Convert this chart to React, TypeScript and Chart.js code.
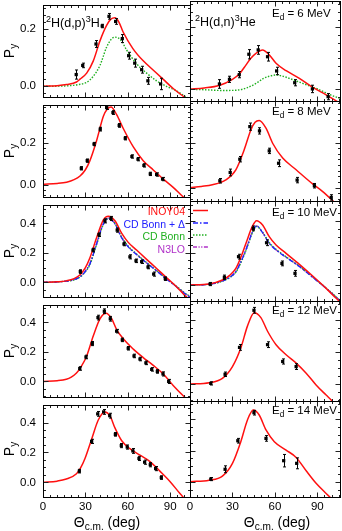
import React, { useEffect, useRef } from "react";
import { Chart, registerables } from "chart.js";

Chart.register(...registerables);

const FONT = "'Liberation Sans', Arial, Helvetica, sans-serif";
const RED = "#ff1010";
const BLUE = "#2020ff";
const GREEN = "#20b020";
const PURPLE = "#b030c8";

// ---------- tick labels ----------
const X_LABELS = [0, 30, 60, 90];
const Y_LABELS_LOW = [0, 0.2];
const Y_LABELS_HIGH = [0, 0.2, 0.4];

// ---------- 6 MeV, 2H(d,p)3H ----------
const dp6Deg = [23.5, 28.1, 37.5, 41.9, 46.7, 51.4, 56.1, 60.6, 64.9, 69.8, 74.2, 83.2];
const dp6Py = [0.041, 0.073, 0.148, 0.211, 0.245, 0.227, 0.167, 0.107, 0.081, 0.058, 0.019, 0.008];
const dp6Err = [0.016, 0.008, 0.012, 0.006, 0.01, 0.01, 0.014, 0.012, 0.014, 0.012, 0.012, 0.02];
const dp6InoyDeg = [0, 10, 16.8, 23.7, 26.2, 30.9, 35.6, 40.3, 45, 48, 50.9, 53.7, 56.6, 63.6, 70.9, 77.9, 84.9, 92.1, 99.2, 104];
const dp6InoyPy = [0, 0.002, 0.006, 0.015, 0.025, 0.046, 0.089, 0.159, 0.213, 0.235, 0.24, 0.225, 0.191, 0.132, 0.089, 0.057, 0.025, -0.008, -0.035, -0.05];
const dp6CdbDeg = [0, 15, 25, 30.9, 35.6, 40.3, 45, 48, 50.9, 55, 59.2, 66.3, 73.3, 80.4, 87.3, 94.4, 100.4, 104];
const dp6CdbPy = [0, 0.001, 0.006, 0.014, 0.035, 0.073, 0.137, 0.163, 0.172, 0.162, 0.127, 0.078, 0.046, 0.019, 0, -0.016, -0.035, -0.045];

// ---------- 6 MeV, 2H(d,n)3He ----------
const dn6Deg = [20.8, 27.9, 34.8, 41.6, 48.2, 54.8, 61.2, 74, 86.5, 97.6];
const dn6Py = [0.017, 0.032, 0.047, 0.113, 0.127, 0.105, 0.059, 0.021, 0.001, -0.024];
const dn6Err = [0.014, 0.01, 0.01, 0.015, 0.014, 0.014, 0.012, 0.01, 0.012, 0.01];
const dn6InoyDeg = [0, 10, 20.6, 30, 35, 39.5, 43, 46.6, 51.3, 56, 60.8, 67.9, 77.3, 86.7, 96.2, 106];
const dn6InoyPy = [0, 0.004, 0.012, 0.032, 0.05, 0.078, 0.1, 0.116, 0.127, 0.111, 0.084, 0.06, 0.035, 0.006, -0.018, -0.045];
const dn6CdbDeg = [0, 12, 23, 33, 40, 46.6, 52, 56, 60.8, 65, 70.2, 79.6, 89.1, 98.6, 106];
const dn6CdbPy = [0, -0.002, -0.004, -0.003, 0.004, 0.019, 0.035, 0.042, 0.046, 0.043, 0.035, 0.019, 0.003, -0.017, -0.03];

// ---------- 8 MeV ----------
const dp8Deg = [27.1, 31.3, 36.1, 40.5, 45.0, 49.5, 53.9, 58.2, 62.9, 67.2, 71.4, 75.9, 80.4, 84.6];
const dp8Py = [0.079, 0.116, 0.196, 0.268, 0.372, 0.348, 0.286, 0.224, 0.136, 0.123, 0.093, 0.052, 0.049, 0.027];
const dp8Err = [0.008, 0.008, 0.008, 0.009, 0.009, 0.009, 0.009, 0.008, 0.008, 0.008, 0.008, 0.008, 0.008, 0.008];
const dp8InoyDeg = [0, 10, 16.7, 22, 26.2, 30, 33.2, 37.9, 42.7, 45.5, 48.1, 52.1, 56.8, 63.9, 70.9, 78, 85.1, 92.1, 98.1, 104];
const dp8InoyPy = [0.002, 0.006, 0.012, 0.024, 0.042, 0.072, 0.116, 0.212, 0.33, 0.365, 0.375, 0.338, 0.271, 0.182, 0.116, 0.071, 0.027, -0.013, -0.052, -0.09];

const dn8Deg = [21.1, 28.4, 35.2, 42.3, 49.1, 56, 62.6, 75.7, 87.9, 99.8];
const dn8Py = [0.03, 0.067, 0.126, 0.271, 0.252, 0.163, 0.108, 0.033, 0.008, -0.044];
const dn8Err = [0.01, 0.015, 0.012, 0.016, 0.014, 0.012, 0.015, 0.012, 0.01, 0.012];
const dn8InoyDeg = [0, 8, 15.8, 25.3, 32.4, 38.3, 43, 46, 48.9, 53.7, 58.4, 65.5, 75, 86.7, 93.8, 100.9, 106];
const dn8InoyPy = [0, 0.005, 0.012, 0.034, 0.079, 0.168, 0.256, 0.29, 0.298, 0.264, 0.197, 0.131, 0.079, 0.016, -0.018, -0.059, -0.09];

// ---------- 10 MeV ----------
const dp10Deg = [26.4, 35.4, 39.6, 43.8, 48.1, 52.5, 57.3, 61.5, 65.8, 69.8, 74.3, 78.3, 86.5];
const dp10Py = [0.073, 0.219, 0.323, 0.417, 0.433, 0.354, 0.26, 0.173, 0.146, 0.14, 0.104, 0.056, 0.025];
const dp10Err = [0.012, 0.012, 0.012, 0.014, 0.014, 0.014, 0.012, 0.014, 0.012, 0.012, 0.012, 0.014, 0.012];
const dp10CurveDeg = [0, 10, 16.5, 22, 26.2, 30, 33.2, 37.9, 42.7, 46.2, 50.9, 55.6, 60.3, 66.2, 73.3, 80.4, 87.5, 94.6, 100.4, 104];
const dp10InoyPy = [0, 0.004, 0.01, 0.025, 0.052, 0.1, 0.167, 0.302, 0.423, 0.448, 0.417, 0.333, 0.271, 0.219, 0.156, 0.094, 0.031, -0.031, -0.09, -0.12];
const dp10CdbdPy = [0, 0.003, 0.008, 0.018, 0.038, 0.075, 0.125, 0.26, 0.396, 0.433, 0.396, 0.302, 0.24, 0.188, 0.131, 0.077, 0.021, -0.031, -0.077, -0.1];
const dp10CdbPy = [0, 0.003, 0.008, 0.017, 0.036, 0.072, 0.12, 0.255, 0.392, 0.432, 0.4, 0.308, 0.245, 0.192, 0.134, 0.08, 0.024, -0.028, -0.072, -0.095];
const dp10N3loPy = [0, 0.003, 0.009, 0.019, 0.04, 0.078, 0.13, 0.265, 0.4, 0.435, 0.398, 0.305, 0.242, 0.19, 0.132, 0.078, 0.022, -0.03, -0.075, -0.098];

const dn10Deg = [14.2, 24.3, 34.3, 44.7, 54.1, 65, 74.2];
const dn10Py = [0.006, 0.048, 0.177, 0.354, 0.264, 0.135, 0.073];
const dn10Err = [0.01, 0.014, 0.015, 0.015, 0.018, 0.015, 0.018];
const dn10CurveDeg = [0, 13.5, 22.9, 28, 32.4, 36, 39.5, 44.2, 47, 51.3, 56, 60.8, 67.9, 77.3, 86.7, 96.2, 103.3, 106];
const dn10InoyPy = [0, 0.006, 0.031, 0.06, 0.104, 0.175, 0.26, 0.369, 0.402, 0.375, 0.302, 0.25, 0.198, 0.129, 0.056, -0.021, -0.083, -0.105];
const dn10CdbdPy = [0, 0.005, 0.025, 0.048, 0.083, 0.145, 0.219, 0.333, 0.369, 0.327, 0.26, 0.219, 0.173, 0.115, 0.048, -0.021, -0.077, -0.1];
const dn10CdbPy = [0, 0.005, 0.024, 0.046, 0.08, 0.14, 0.214, 0.328, 0.366, 0.33, 0.265, 0.223, 0.176, 0.118, 0.05, -0.019, -0.074, -0.097];
const dn10N3loPy = [0, 0.005, 0.026, 0.05, 0.086, 0.148, 0.222, 0.336, 0.37, 0.328, 0.262, 0.221, 0.175, 0.116, 0.049, -0.02, -0.076, -0.099];

// ---------- 12 MeV ----------
const dp12Deg = [26, 30.4, 34.9, 38.9, 43.4, 47.6, 52.1, 56.1, 60.3, 64.4, 68.6, 72.8, 76.9, 80.9, 84.9, 88.9];
const dp12Py = [0.088, 0.166, 0.257, 0.433, 0.476, 0.425, 0.341, 0.282, 0.225, 0.173, 0.152, 0.126, 0.082, 0.068, 0.051, 0.0];
const dp12Err = [0.012, 0.012, 0.014, 0.016, 0.016, 0.016, 0.012, 0.012, 0.012, 0.012, 0.012, 0.012, 0.012, 0.012, 0.014, 0.014];
const dp12InoyDeg = [0, 10, 16.5, 20, 23.7, 27, 30.9, 35.6, 40.3, 44.6, 48.6, 52.1, 56.8, 63.9, 70.9, 78, 85.1, 92.1, 99.2, 104];
const dp12InoyPy = [0, 0.005, 0.015, 0.03, 0.057, 0.1, 0.173, 0.31, 0.425, 0.463, 0.425, 0.352, 0.289, 0.219, 0.162, 0.109, 0.051, -0.027, -0.097, -0.14];

const dn12Deg = [14.7, 24.8, 35, 45.2, 54.8, 65.5, 75];
const dn12Py = [0.004, 0.061, 0.229, 0.461, 0.246, 0.141, 0.109];
const dn12Err = [0.01, 0.014, 0.018, 0.018, 0.018, 0.016, 0.018];
const dn12InoyDeg = [0, 13.5, 22.9, 30, 35.9, 40.6, 45.4, 50.1, 54.8, 60.8, 67.9, 75, 82.1, 89.1, 96.2, 99.8, 106];
const dn12InoyPy = [0, 0.008, 0.036, 0.109, 0.225, 0.362, 0.446, 0.415, 0.33, 0.246, 0.183, 0.131, 0.068, -0.006, -0.069, -0.1, -0.16];

// ---------- 14 MeV ----------
const dp14Deg = [25.7, 34.4, 38.7, 42.9, 47.2, 51.2, 55.4, 59.6, 63.6, 67.9, 71.9, 75.9, 79.7, 83.7];
const dp14Py = [0.075, 0.274, 0.458, 0.471, 0.446, 0.321, 0.246, 0.236, 0.21, 0.16, 0.135, 0.118, 0.092, 0.032];
const dp14Err = [0.012, 0.014, 0.016, 0.016, 0.016, 0.012, 0.014, 0.014, 0.016, 0.014, 0.014, 0.014, 0.014, 0.012];
const dp14InoyDeg = [0, 10, 16.5, 23.7, 26.5, 29.7, 34.4, 39.1, 43.8, 47.4, 50.9, 55.7, 61.5, 68.6, 75.7, 82.7, 89.8, 96.9, 104];
const dp14InoyPy = [0, 0.008, 0.022, 0.058, 0.095, 0.16, 0.289, 0.417, 0.471, 0.445, 0.364, 0.278, 0.225, 0.182, 0.139, 0.075, 0.006, -0.075, -0.15];

const dn14Deg = [14.7, 24.8, 33.8, 45.2, 53.7, 66.2, 75.4];
const dn14Py = [0.017, 0.08, 0.263, 0.443, 0.278, 0.135, 0.118];
const dn14Err = [0.01, 0.022, 0.015, 0.015, 0.018, 0.04, 0.035];
const dn14InoyDeg = [0, 13.5, 22.9, 30, 35.9, 40.6, 44.7, 48.9, 53.7, 59.6, 67.9, 75, 82.1, 89.1, 96.2, 106];
const dn14InoyPy = [0, 0.01, 0.036, 0.118, 0.257, 0.396, 0.46, 0.428, 0.332, 0.257, 0.203, 0.156, 0.07, -0.01, -0.075, -0.16];

// ---------- styles / layout ----------
const STYLES: any = {
  inoy: { color: RED, dash: [], width: 1.5 },
  cdbd: { color: BLUE, dash: [5, 2, 1.5, 2], width: 1.3 },
  cdb: { color: GREEN, dash: [1.5, 1.5], width: 1.4 },
  n3lo: { color: PURPLE, dash: [4, 1.5, 1.2, 1.5, 1.2, 1.5], width: 1.3 },
};

const COLS = [
  { left: 43, right: 190, xMax: 104 },
  { left: 190, right: 340, xMax: 106 },
];
const ROWS = [
  { top: 1, bottom: 101, yMin: -0.038, yMax: 0.285, yStep: 0.025, labels: Y_LABELS_LOW },
  { top: 101, bottom: 201, yMin: -0.06, yMax: 0.385, yStep: 0.025, labels: Y_LABELS_LOW },
  { top: 201, bottom: 301, yMin: -0.1, yMax: 0.525, yStep: 0.05, labels: Y_LABELS_HIGH },
  { top: 301, bottom: 401, yMin: -0.106, yMax: 0.519, yStep: 0.05, labels: Y_LABELS_HIGH },
  { top: 401, bottom: 497, yMin: -0.098, yMax: 0.518, yStep: 0.05, labels: Y_LABELS_HIGH },
];
const PAGE_H = 531;

type Part = [string, number];
const txt = (x: number, y: number, size: number, color: string, align: string, parts: Part[], rotate = false) => ({ kind: "text", x, y, size, color, align, parts, rotate });
const seg = (x1: number, x2: number, y: number, style: string) => ({ kind: "line", x1, x2, y, style });
const eLabel = (y: number, e: string) => txt(272, y, 11.5, "#000", "left", [["E", 0], ["d", 1], [" = " + e + " MeV", 0]]);
const pyTitle = (row: number) => txt(13.5, (ROWS[row].top + ROWS[row].bottom) / 2, 14, "#000", "center", [["P", 0], ["y", 1]], true);
const thetaTitle = (x: number) => txt(x, 526.5, 14, "#000", "center", [["Θ", 0], ["c.m.", 1], [" (deg)", 0]]);

const PANELS = [
  { row: 0, col: 0, pts: [dp6Deg, dp6Py, dp6Err], curves: [[dp6InoyDeg, dp6InoyPy, "inoy"], [dp6CdbDeg, dp6CdbPy, "cdb"]],
    items: [pyTitle(0), txt(46, 27, 12.5, "#000", "left", [["2", 2], ["H(d,p)", 0], ["3", 2], ["H", 0]])] },
  { row: 0, col: 1, pts: [dn6Deg, dn6Py, dn6Err], curves: [[dn6InoyDeg, dn6InoyPy, "inoy"], [dn6CdbDeg, dn6CdbPy, "cdb"]],
    items: [txt(195, 26, 12.5, "#000", "left", [["2", 2], ["H(d,n)", 0], ["3", 2], ["He", 0]]), eLabel(16.5, "6")] },
  { row: 1, col: 0, pts: [dp8Deg, dp8Py, dp8Err], curves: [[dp8InoyDeg, dp8InoyPy, "inoy"]], items: [pyTitle(1)] },
  { row: 1, col: 1, pts: [dn8Deg, dn8Py, dn8Err], curves: [[dn8InoyDeg, dn8InoyPy, "inoy"]], items: [eLabel(115, "8")] },
  { row: 2, col: 0, pts: [dp10Deg, dp10Py, dp10Err],
    curves: [[dp10CurveDeg, dp10InoyPy, "inoy"], [dp10CurveDeg, dp10CdbdPy, "cdbd"], [dp10CurveDeg, dp10CdbPy, "cdb"], [dp10CurveDeg, dp10N3loPy, "n3lo"]],
    items: [pyTitle(2),
      txt(185, 215, 10.5, RED, "right", [["INOY04", 0]]),
      txt(185, 227.5, 10.5, BLUE, "right", [["CD Bonn + Δ", 0]]),
      txt(185, 240, 10.5, GREEN, "right", [["CD Bonn", 0]]),
      txt(185, 252.5, 10.5, PURPLE, "right", [["N3LO", 0]])] },
  { row: 2, col: 1, pts: [dn10Deg, dn10Py, dn10Err],
    curves: [[dn10CurveDeg, dn10InoyPy, "inoy"], [dn10CurveDeg, dn10CdbdPy, "cdbd"], [dn10CurveDeg, dn10CdbPy, "cdb"], [dn10CurveDeg, dn10N3loPy, "n3lo"]],
    items: [eLabel(215.5, "10"), seg(193, 208, 210.5, "inoy"), seg(193, 208, 223, "cdbd"), seg(193, 208, 235, "cdb"), seg(193, 208, 247, "n3lo")] },
  { row: 3, col: 0, pts: [dp12Deg, dp12Py, dp12Err], curves: [[dp12InoyDeg, dp12InoyPy, "inoy"]], items: [pyTitle(3)] },
  { row: 3, col: 1, pts: [dn12Deg, dn12Py, dn12Err], curves: [[dn12InoyDeg, dn12InoyPy, "inoy"]], items: [eLabel(314, "12")] },
  { row: 4, col: 0, pts: [dp14Deg, dp14Py, dp14Err], curves: [[dp14InoyDeg, dp14InoyPy, "inoy"]], items: [pyTitle(4), thetaTitle(107)] },
  { row: 4, col: 1, pts: [dn14Deg, dn14Py, dn14Err], curves: [[dn14InoyDeg, dn14InoyPy, "inoy"]], items: [eLabel(413.5, "14"), thetaTitle(277)] },
];

const near = (list: number[], v: number) => list.some((m) => Math.abs(m - v) < 1e-6);

function makeFramePlugin(yLabels: number[]) {
  return {
    id: "frameTicks",
    afterDatasetsDraw(chart: any) {
      const { ctx, chartArea: a } = chart;
      const xs = chart.scales.x, ys = chart.scales.y;
      const snap = (v: number) => Math.round(v) + 0.5;
      const L = snap(a.left), R = snap(a.right), T = snap(a.top), B = snap(a.bottom);
      ctx.save();
      ctx.strokeStyle = "#222";
      ctx.lineWidth = 1;
      ctx.beginPath();
      for (const t of xs.ticks) {
        const px = snap(xs.getPixelForValue(t.value));
        if (px <= L + 0.1 || px >= R - 0.1) continue;
        const len = near(X_LABELS, t.value) ? 5 : 2.5;
        ctx.moveTo(px, B); ctx.lineTo(px, B - len);
        ctx.moveTo(px, T); ctx.lineTo(px, T + len);
      }
      for (const t of ys.ticks) {
        const py = snap(ys.getPixelForValue(t.value));
        if (py <= T + 0.1 || py >= B - 0.1) continue;
        const len = near(yLabels, t.value) ? 5 : 2.5;
        ctx.moveTo(L, py); ctx.lineTo(L + len, py);
        ctx.moveTo(R, py); ctx.lineTo(R - len, py);
      }
      ctx.stroke();
      ctx.strokeStyle = "#000";
      ctx.strokeRect(L, T, R - L, B - T);
      ctx.restore();
    },
  };
}

const errorBarPlugin = {
  id: "errorBars",
  afterDatasetsDraw(chart: any) {
    const { ctx, chartArea: a } = chart;
    const ys = chart.scales.y;
    ctx.save();
    ctx.beginPath();
    ctx.rect(a.left, a.top, a.right - a.left, a.bottom - a.top);
    ctx.clip();
    ctx.strokeStyle = "#000";
    ctx.lineWidth = 1;
    chart.data.datasets.forEach((ds: any, i: number) => {
      if (!ds.errors) return;
      const meta = chart.getDatasetMeta(i);
      meta.data.forEach((el: any, j: number) => {
        const v = ds.data[j].y, e = ds.errors[j];
        const x = Math.round(el.x) + 0.5;
        const y1 = ys.getPixelForValue(v + e), y2 = ys.getPixelForValue(v - e);
        ctx.beginPath();
        ctx.moveTo(x, y1); ctx.lineTo(x, y2);
        ctx.moveTo(x - 1.5, y1); ctx.lineTo(x + 1.5, y1);
        ctx.moveTo(x - 1.5, y2); ctx.lineTo(x + 1.5, y2);
        ctx.stroke();
      });
    });
    ctx.restore();
  },
};

function makeTextPlugin(items: any[], ox: number, oy: number) {
  return {
    id: "richText",
    afterDraw(chart: any) {
      const ctx = chart.ctx;
      for (const it of items) {
        ctx.save();
        if (it.kind === "line") {
          const st = STYLES[it.style];
          ctx.strokeStyle = st.color;
          ctx.lineWidth = st.width;
          ctx.setLineDash(st.dash);
          ctx.beginPath();
          ctx.moveTo(it.x1 - ox, it.y - oy);
          ctx.lineTo(it.x2 - ox, it.y - oy);
          ctx.stroke();
          ctx.restore();
          continue;
        }
        const size = it.size;
        const fontFor = (m: number) => `${m ? size * 0.72 : size}px ${FONT}`;
        let w = 0;
        for (const [t, m] of it.parts) { ctx.font = fontFor(m); w += ctx.measureText(t).width; }
        ctx.translate(it.x - ox, it.y - oy);
        if (it.rotate) ctx.rotate(-Math.PI / 2);
        let x = it.align === "right" ? -w : it.align === "center" ? -w / 2 : 0;
        ctx.fillStyle = it.color;
        ctx.textAlign = "left";
        ctx.textBaseline = "alphabetic";
        for (const [t, m] of it.parts) {
          ctx.font = fontFor(m);
          const dy = m === 1 ? size * 0.28 : m === 2 ? -size * 0.42 : 0;
          ctx.fillText(t, x, dy);
          x += ctx.measureText(t).width;
        }
        ctx.restore();
      }
    },
  };
}

function Panel({ p }: { p: any }) {
  const ref = useRef<HTMLCanvasElement>(null);
  const col = COLS[p.col], row = ROWS[p.row];
  const isBottom = p.row === ROWS.length - 1;
  const isLeft = p.col === 0;
  const PAD = 10;
  const canvasLeft = isLeft ? 0 : col.left - PAD;
  const canvasRight = col.right + PAD;
  const canvasTop = row.top - PAD;
  const canvasBottom = isBottom ? PAGE_H : row.bottom + PAD;
  const w = canvasRight - canvasLeft, h = canvasBottom - canvasTop;

  useEffect(() => {
    const [xs, ys, errs] = p.pts;
    const datasets: any[] = [
      {
        type: "line",
        data: xs.map((x: number, i: number) => ({ x, y: ys[i] })),
        errors: errs,
        showLine: false,
        pointStyle: "rect",
        pointRadius: 2.3,
        pointBackgroundColor: "#000",
        pointBorderWidth: 0,
        borderColor: "#000",
      },
      ...p.curves.map(([cx, cy, s]: any) => ({
        type: "line",
        data: cx.map((x: number, i: number) => ({ x, y: cy[i] })),
        borderColor: STYLES[s].color,
        borderDash: STYLES[s].dash,
        borderWidth: STYLES[s].width,
        pointRadius: 0,
        fill: false,
        cubicInterpolationMode: "monotone",
        capBezierPoints: false,
      })),
    ];
    const chart = new Chart(ref.current as HTMLCanvasElement, {
      type: "line",
      data: { datasets },
      options: {
        responsive: false,
        animation: false,
        devicePixelRatio: 1,
        events: [],
        layout: {
          padding: { left: isLeft ? 0 : PAD, right: PAD, top: PAD, bottom: isBottom ? 0 : PAD },
        },
        plugins: { legend: { display: false }, tooltip: { enabled: false } },
        scales: {
          x: {
            type: "linear",
            min: 0,
            max: col.xMax,
            grid: { display: false, drawTicks: false },
            border: { display: false },
            ticks: {
              display: isBottom,
              stepSize: 5,
              autoSkip: false,
              maxRotation: 0,
              includeBounds: false,
              padding: 3,
              color: "#000",
              font: { size: 11.5, family: FONT },
              callback: (v: any) => (near(X_LABELS, Number(v)) ? String(v) : ""),
            },
            afterFit: (s: any) => { s.height = isBottom ? PAGE_H - ROWS[4].bottom : 0; },
          },
          y: {
            type: "linear",
            min: row.yMin,
            max: row.yMax,
            grid: { display: false, drawTicks: false },
            border: { display: false },
            ticks: {
              display: isLeft,
              stepSize: row.yStep,
              autoSkip: false,
              includeBounds: false,
              padding: 7,
              color: "#000",
              font: { size: 11.5, family: FONT },
              callback: (v: any) => (near(row.labels, Number(v)) ? Number(v).toFixed(1) : ""),
            },
            afterFit: (s: any) => { s.width = isLeft ? col.left : 0; },
          },
        },
      } as any,
      plugins: [makeFramePlugin(row.labels), errorBarPlugin, makeTextPlugin(p.items, canvasLeft, canvasTop)],
    } as any);
    return () => chart.destroy();
  }, []);

  return (
    <canvas
      ref={ref}
      width={w}
      height={h}
      style={{ position: "absolute", left: canvasLeft, top: canvasTop, width: w, height: h }}
    />
  );
}

export default function App() {
  return (
    <div style={{ position: "fixed", left: 0, top: 0, width: 342, height: PAGE_H, overflow: "hidden", background: "#fff" }}>
      {PANELS.map((p, i) => (
        <Panel key={i} p={p} />
      ))}
    </div>
  );
}
